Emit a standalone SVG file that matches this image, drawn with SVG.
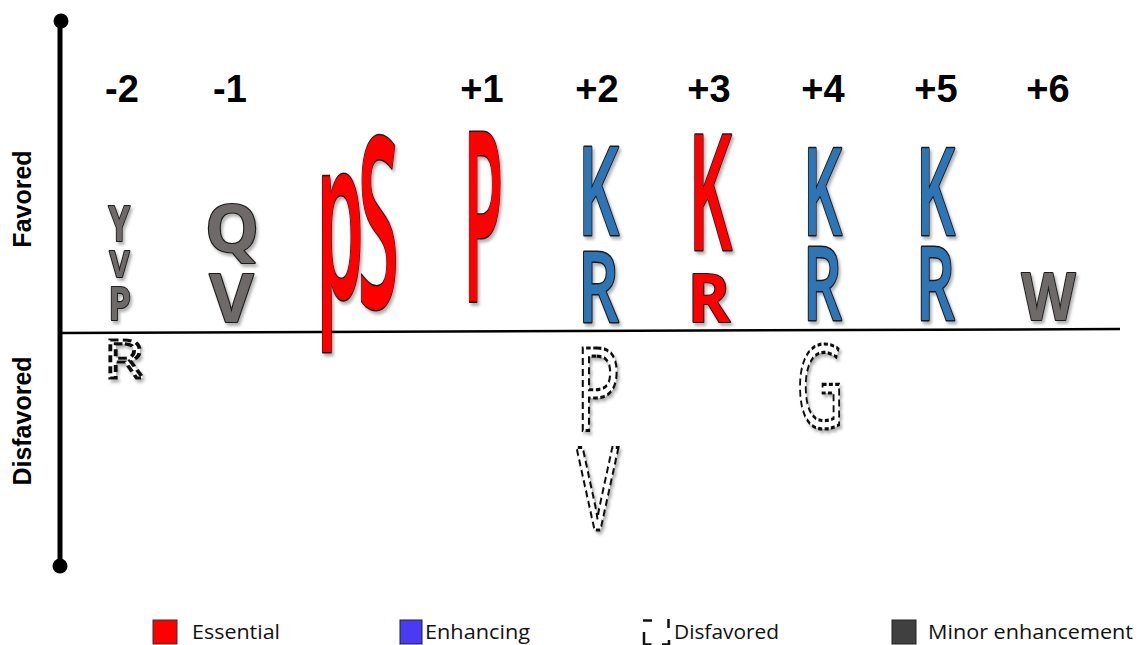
<svg xmlns="http://www.w3.org/2000/svg" width="1147" height="645" viewBox="0 0 1147 645">
<defs>
<filter id="sh" x="-30%" y="-30%" width="160%" height="160%">
<feDropShadow dx="2" dy="3" stdDeviation="1.8" flood-color="#000" flood-opacity="0.3"/>
</filter>
<style>
.pos{font-family:"Liberation Sans",Arial,sans-serif;font-weight:bold;font-size:38px;fill:#000;text-anchor:middle}
.ax{font-family:"Liberation Sans",Arial,sans-serif;font-weight:bold;font-size:25px;fill:#000;text-anchor:middle}
.L{font-family:"Open Sans",sans-serif;font-weight:600;stroke:#1a1a1a;stroke-width:3;paint-order:stroke;stroke-linejoin:round}
.b{font-weight:700;stroke-width:2.2}
.red{fill:#ff0000}
.blue{fill:#2f74b5}
.gray{fill:#6e6a6a}
.dash{font-family:"Open Sans",sans-serif;font-weight:500;fill:#fff;stroke:#111;stroke-width:3.2;stroke-dasharray:7 4;stroke-linecap:butt}
.leg{font-family:"Open Sans",sans-serif;font-size:20px;fill:#111}
</style>
</defs>
<rect width="1147" height="645" fill="#fff"/>

<g id="connectors">
<line x1="60" y1="22" x2="60" y2="566" stroke="#000" stroke-width="5"/>
<circle cx="61" cy="21" r="7.5" fill="#000"/>
<circle cx="60" cy="566" r="7.5" fill="#000"/>
<line x1="60" y1="333" x2="1120" y2="329" stroke="#000" stroke-width="2.5"/>
</g>

<g id="axis-labels">
<text class="ax" transform="translate(31,199) rotate(-90)">Favored</text>
<text class="ax" transform="translate(31,421) rotate(-90)">Disfavored</text>
</g>

<g id="pos-m2">
<text class="pos" x="122" y="102">-2</text>
<g filter="url(#sh)">
<text class="L b gray" x="108.5" y="241" font-size="48" textLength="21.5" lengthAdjust="spacingAndGlyphs">Y</text>
<text class="L b gray" x="109.5" y="277" font-size="35" textLength="20" lengthAdjust="spacingAndGlyphs">V</text>
<text class="L b gray" x="108.5" y="320" font-size="46" textLength="22.5" lengthAdjust="spacingAndGlyphs">P</text>
<text class="dash" x="104" y="378" font-size="53" textLength="40" lengthAdjust="spacingAndGlyphs">R</text>
</g>
</g>

<g id="pos-m1">
<text class="pos" x="230" y="102">-1</text>
<g filter="url(#sh)">
<text class="L b gray" x="205" y="252" font-size="67" textLength="54" lengthAdjust="spacingAndGlyphs">Q</text>
<text class="L b gray" x="209.5" y="322" font-size="66" textLength="44" lengthAdjust="spacingAndGlyphs">V</text>
</g>
</g>

<g id="pos-0">
<g filter="url(#sh)">
<text class="L red" x="316.3" y="298" font-size="225" textLength="47.6" lengthAdjust="spacingAndGlyphs">p</text>
<text class="L red" x="357.7" y="308.4" font-size="238" textLength="41" lengthAdjust="spacingAndGlyphs">S</text>
</g>
</g>

<g id="pos-p1">
<text class="pos" x="482" y="102">+1</text>
<g filter="url(#sh)">
<text class="L red" x="463.2" y="302" font-size="237" textLength="40" lengthAdjust="spacingAndGlyphs">P</text>
</g>
</g>

<g id="pos-p2">
<text class="pos" x="597" y="102">+2</text>
<g filter="url(#sh)">
<text class="L blue" x="577.9" y="235" font-size="123" textLength="41" lengthAdjust="spacingAndGlyphs">K</text>
<text class="L blue" x="577.9" y="322" font-size="98" textLength="41" lengthAdjust="spacingAndGlyphs">R</text>
<text class="dash" x="575.6" y="430" font-size="115" textLength="45" lengthAdjust="spacingAndGlyphs">P</text>
<text class="dash" x="576.5" y="530" font-size="115" textLength="42" lengthAdjust="spacingAndGlyphs">V</text>
</g>
</g>

<g id="pos-p3">
<text class="pos" x="709" y="102">+3</text>
<g filter="url(#sh)">
<text class="L red" x="688.6" y="250" font-size="161" textLength="43.5" lengthAdjust="spacingAndGlyphs">K</text>
<text class="L b red" x="687.8" y="322" font-size="66" textLength="42.4" lengthAdjust="spacingAndGlyphs">R</text>
</g>
</g>

<g id="pos-p4">
<text class="pos" x="823" y="102">+4</text>
<g filter="url(#sh)">
<text class="L blue" x="803" y="235" font-size="122" textLength="39" lengthAdjust="spacingAndGlyphs">K</text>
<text class="L blue" x="803" y="320" font-size="101" textLength="39" lengthAdjust="spacingAndGlyphs">R</text>
<text class="dash" x="796" y="428" font-size="115.6" textLength="48" lengthAdjust="spacingAndGlyphs">G</text>
</g>
</g>

<g id="pos-p5">
<text class="pos" x="936" y="102">+5</text>
<g filter="url(#sh)">
<text class="L blue" x="916" y="235" font-size="122" textLength="39" lengthAdjust="spacingAndGlyphs">K</text>
<text class="L blue" x="916" y="320" font-size="101" textLength="39" lengthAdjust="spacingAndGlyphs">R</text>
</g>
</g>

<g id="pos-p6">
<text class="pos" x="1048" y="102">+6</text>
<g filter="url(#sh)">
<text class="L b gray" x="1021.5" y="320" font-size="67" textLength="54" lengthAdjust="spacingAndGlyphs">W</text>
</g>
</g>

<g id="legend">
<g id="leg-essential">
<rect x="153" y="620" width="24" height="24" fill="#ff0000" stroke="#333" stroke-width="1"/>
<text class="leg" x="192" y="639" textLength="88" lengthAdjust="spacingAndGlyphs">Essential</text>
</g>
<g id="leg-enhancing">
<rect x="400" y="620" width="22" height="24" fill="#4a3af5" stroke="#222" stroke-width="1"/>
<text class="leg" x="425" y="639" textLength="105" lengthAdjust="spacingAndGlyphs">Enhancing</text>
</g>
<g id="leg-disfavored">
<path d="M643 620.5 H652 M668.5 619 V628 M644 632 V644.5 H651.5 M662 644.5 H669 V640" fill="none" stroke="#111" stroke-width="2.5"/>
<text class="leg" x="674" y="639" textLength="105" lengthAdjust="spacingAndGlyphs">Disfavored</text>
</g>
<g id="leg-minor">
<rect x="892" y="620" width="24" height="24" fill="#404040" stroke="#222" stroke-width="1"/>
<text class="leg" x="928" y="639" textLength="205" lengthAdjust="spacingAndGlyphs">Minor enhancement</text>
</g>
</g>
</svg>
